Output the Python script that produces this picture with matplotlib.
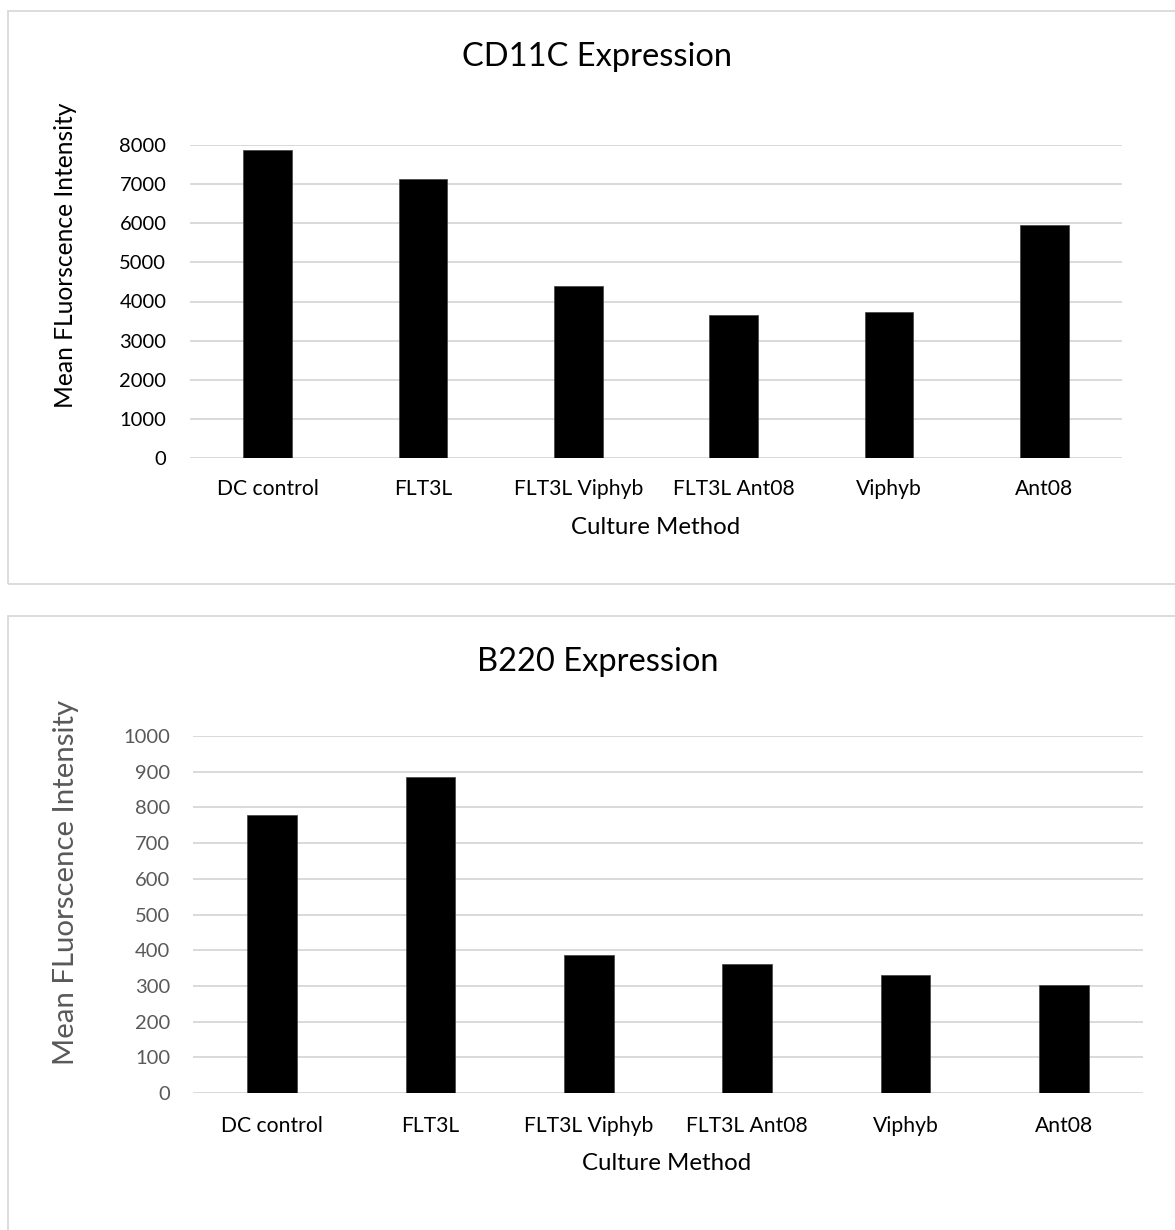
import matplotlib
matplotlib.use("Agg")
import matplotlib.pyplot as plt
from matplotlib.patches import Rectangle

plt.rcParams['font.family'] = ['Lato', 'DejaVu Sans']

categories = ["DC control", "FLT3L", "FLT3L Viphyb", "FLT3L Ant08", "Viphyb", "Ant08"]
cd11c_values = [7880, 7140, 4400, 3655, 3730, 5950]
b220_values = [779, 884, 387, 361, 330, 302]
cd11c_ticks = [0, 1000, 2000, 3000, 4000, 5000, 6000, 7000, 8000]
b220_ticks = [0, 100, 200, 300, 400, 500, 600, 700, 800, 900, 1000]

W, H = 1175, 1230
fig = plt.figure(figsize=(W / 100, H / 100), dpi=100)

def fx(px):
    return px / W

def fy(py):
    return 1 - py / H

GRID = "#d9d9d9"
GRAY = "#595959"

# panel borders
fig.patches.append(Rectangle((fx(8), fy(584)), fx(1200 - 8), fy(11) - fy(584),
                             transform=fig.transFigure, fill=False,
                             edgecolor=GRID, lw=1.3, zorder=0))
fig.patches.append(Rectangle((fx(8), fy(1260)), fx(1200 - 8), fy(616) - fy(1260),
                             transform=fig.transFigure, fill=False,
                             edgecolor=GRID, lw=1.3, zorder=0))

def make(ax, values, ticks, ymax, tickcolor, title, title_xy, ylabel, ylabel_xy,
         ylabel_size, ylabel_color, xlabel_xy, ypad, xpad):
    x = list(range(len(categories)))
    ax.bar(x, values, width=0.315, color="black", edgecolor="#404040", lw=0.5, zorder=3)
    ax.set_xlim(-0.5, len(categories) - 0.5)
    ax.set_ylim(0, ymax)
    ax.set_yticks(ticks)
    ax.set_yticklabels([str(t) for t in ticks], fontsize=14.5, color=tickcolor)
    ax.set_xticks(x)
    ax.set_xticklabels(categories, fontsize=15.2, color="black")
    ax.tick_params(axis="both", length=0)
    ax.tick_params(axis="y", pad=ypad)
    ax.tick_params(axis="x", pad=xpad)
    ax.yaxis.grid(True, color=GRID, lw=1.4, zorder=0)
    ax.set_axisbelow(True)
    for s in ax.spines.values():
        s.set_visible(False)
    fig.text(fx(title_xy[0]), fy(title_xy[1]), title, fontsize=23.5,
             ha="center", va="center", color="black")
    fig.text(fx(ylabel_xy[0]), fy(ylabel_xy[1]), ylabel, fontsize=ylabel_size,
             ha="center", va="center", rotation=90, color=ylabel_color)
    fig.text(fx(xlabel_xy[0]), fy(xlabel_xy[1]), "Culture Method", fontsize=17.3,
             ha="center", va="center", color="black")

ax1 = fig.add_axes([fx(190), fy(458), fx(1122) - fx(190), fy(145) - fy(458)])
make(ax1, cd11c_values, cd11c_ticks, 8000, "black", "CD11C Expression", (597, 57),
     "Mean FLuorscence Intensity", (66, 255), 17.7, "black", (656, 528), 17, 15)

ax2 = fig.add_axes([fx(193), fy(1093), fx(1143) - fx(193), fy(736) - fy(1093)])
make(ax2, b220_values, b220_ticks, 1000, GRAY, "B220 Expression", (598, 662),
     "Mean FLuorscence Intensity", (66, 882), 21.2, GRAY, (667, 1164), 16.5, 16.5)

fig.savefig("out.png", dpi=100, facecolor="white")
